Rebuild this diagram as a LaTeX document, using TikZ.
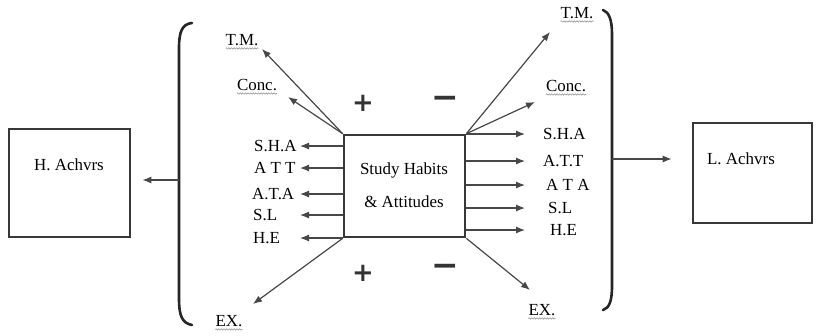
\documentclass[tikz,border=0pt]{standalone}
\usepackage{fontspec}
\setmainfont{Liberation Serif}
\newfontfamily\signfont{DejaVu Sans}
\usetikzlibrary{arrows.meta,decorations.pathmorphing}

\tikzset{
  box/.style={draw=black!78, line width=2.6bp, inner sep=0pt},
  lab/.style={font=\fontsize{17}{20}\selectfont, inner sep=0pt},
  sign/.style={font=\signfont\bfseries\fontsize{26}{26}\selectfont, inner sep=0pt, text=black!80},
  arr/.style={->, draw=black!72, line width=1.2bp},
  spell/.style={draw=black!40, line width=0.6bp, decorate,
    decoration={snake, amplitude=0.7bp, segment length=2.6bp}},
  bracket/.style={draw=black!85, line width=2.6bp, line cap=round},
}

\begin{document}
\begin{tikzpicture}[x=1bp,y=-1bp,>={Latex[length=9bp,width=7bp]}]
\useasboundingbox (0,0) rectangle (816,335);
%%
% Node: study habits box
\node[box, minimum width=121bp, minimum height=102bp] (sha) at (404.5,186) {};
\node[lab] (sha1) at (404,170) {Study Habits};
\node[lab] (sha2) at (404,202) {\& Attitudes};
% Node: high achievers
\node[box, minimum width=121bp, minimum height=108bp] (hach) at (69.5,183) {};
\node[lab] (hachtext) at (69,165) {H. Achvrs};
% Node: low achievers
\node[box, minimum width=119bp, minimum height=100bp] (lach) at (752.5,173) {};
\node[lab] (lachtext) at (741,159) {L. Achvrs};
%
% Brackets
\draw[bracket] (192,23) .. controls (182,24) and (179,32) .. (179,48) -- (179,298)
  .. controls (179,316) and (182,323) .. (192,325);
\draw[bracket] (603,10) .. controls (609,12) and (612,20) .. (612,34) -- (612,286)
  .. controls (612,302) and (609,308) .. (603,310);
\coordinate (lbr) at (179,180);
\coordinate (rbr) at (612,159);
% Edge: brackets -> achievers
\draw[arr, shorten >=11bp] (lbr) -- (lbr -| hach.east);
\draw[arr, shorten >=20bp] (rbr) -- (rbr -| lach.west);
%
% Signs
\node[sign] (plusup) at (363,103) {+};
\node[sign, font=\signfont\bfseries\fontsize{33}{33}\selectfont] (minusup) at (445,102) {−};
\node[sign] (pluslow) at (363,273) {+};
\node[sign, font=\signfont\bfseries\fontsize{33}{33}\selectfont] (minuslow) at (445,270) {−};
%
% Left labels
\coordinate (ltip) at (300,0);
\node[lab, anchor=west] (lsha) at (254,146) {S.H.A};
\node[lab, anchor=west] (latt) at (254,168) {A T T};
\node[lab, anchor=west] (lata) at (252,194) {A.T.A};
\node[lab, anchor=west] (lsl) at (253,215) {S.L};
\node[lab, anchor=west] (lhe) at (253,238) {H.E};
% Edge: box -> left labels
\draw[arr] (sha.west |- lsha) -- (ltip |- lsha);
\draw[arr] (sha.west |- latt) -- (ltip |- latt);
\draw[arr] (sha.west |- lata) -- (ltip |- lata);
\draw[arr] (sha.west |- lsl) -- (ltip |- lsl);
\draw[arr] (sha.west |- lhe) -- (ltip |- lhe);
%
% Right labels
\coordinate (rtip) at (525,0);
\node[lab, anchor=west] (rsha) at (543,134) {S.H.A};
\node[lab, anchor=west] (ratt) at (543,161) {A.T.T};
\node[lab, anchor=west] (rata) at (546,185) {A T A};
\node[lab, anchor=west] (rsl) at (548,208) {S.L};
\node[lab, anchor=west] (rhe) at (550,230) {H.E};
% Edge: box -> right labels
\draw[arr] (sha.east |- rsha) -- (rtip |- rsha);
\draw[arr] (sha.east |- ratt) -- (rtip |- ratt);
\draw[arr] (sha.east |- rata) -- (rtip |- rata);
\draw[arr] (sha.east |- rsl) -- (rtip |- rsl);
\draw[arr] (sha.east |- rhe) -- (rtip |- rhe);
%
% Slanted labels
\node[lab] (ltm) at (242,40) {T.M.};
\node[lab] (lconc) at (257,85) {Conc.};
\node[lab] (lex) at (229,321) {EX.};
\node[lab] (rtm) at (577,13) {T.M.};
\node[lab] (rconc) at (566,86) {Conc.};
\node[lab] (rex) at (542,310) {EX.};
\coordinate (ltmtip) at (262,49);
\coordinate (lconctip) at (288,97);
\coordinate (lextip) at (253,304);
\coordinate (rtmtip) at (550,32);
\coordinate (rconctip) at (535,102);
\coordinate (rextip) at (530,290);
% Edge: box corners -> slanted labels
\draw[arr] (sha.north west) -- (ltmtip);
\draw[arr] (sha.north west) -- (lconctip);
\draw[arr] (sha.south west) -- (lextip);
\draw[arr] (sha.north east) -- (rtmtip);
\draw[arr] (sha.north east) -- (rconctip);
\draw[arr] (sha.south east) -- (rextip);
% wavy underlines
\draw[spell] ([yshift=-3bp]ltm.base west) -- ([yshift=-3bp]ltm.base east);
\draw[spell] ([yshift=-3bp]lconc.base west) -- ([yshift=-3bp]lconc.base east);
\draw[spell] ([yshift=-3bp]lex.base west) -- ([yshift=-3bp]lex.base east);
\draw[spell] ([yshift=-3bp]rtm.base west) -- ([yshift=-3bp]rtm.base east);
\draw[spell] ([yshift=-3bp]rconc.base west) -- ([yshift=-3bp]rconc.base east);
\draw[spell] ([yshift=-3bp]rex.base west) -- ([yshift=-3bp]rex.base east);
%
\end{tikzpicture}
\end{document}
